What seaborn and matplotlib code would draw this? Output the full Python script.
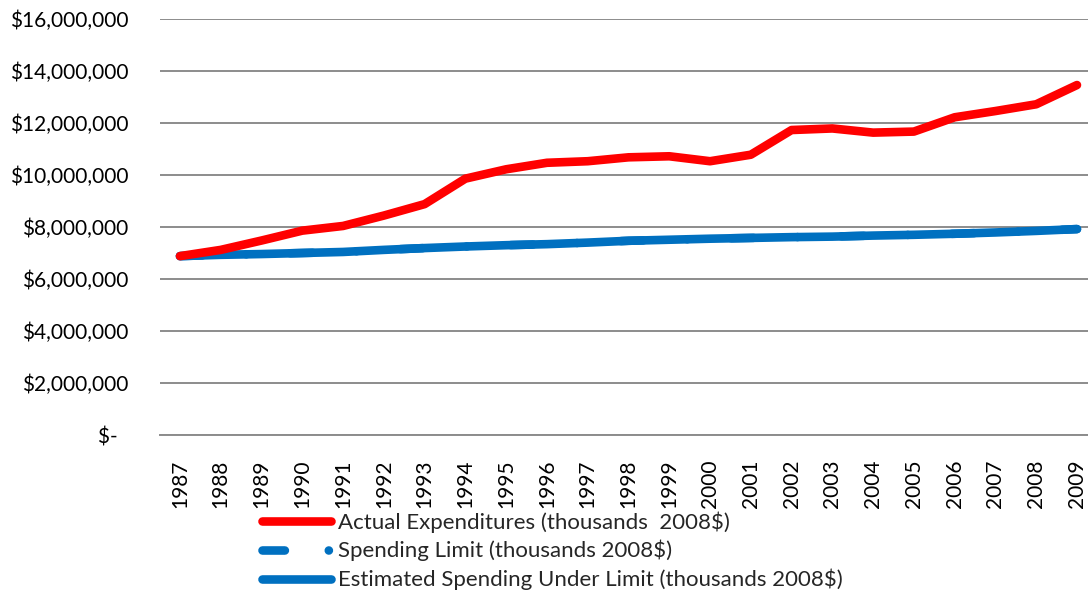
import numpy as np
import pandas as pd
import matplotlib
matplotlib.use('Agg')
import matplotlib.pyplot as plt
import seaborn as sns
from matplotlib.ticker import FuncFormatter

years = list(range(1987, 2010))
actual = [6.88, 7.12, 7.48, 7.86, 8.04, 8.44, 8.88, 9.86, 10.22, 10.47, 10.53, 10.68, 10.72,
          10.53, 10.78, 11.73, 11.79, 11.63, 11.67, 12.22, 12.46, 12.72, 13.46]
limit = [6.88, 6.93, 6.96, 7.00, 7.04, 7.12, 7.19, 7.25, 7.30, 7.34, 7.40, 7.47, 7.51,
         7.55, 7.58, 7.61, 7.63, 7.67, 7.70, 7.74, 7.79, 7.85, 7.92]
estimated = list(limit)

labels = ['Actual Expenditures (thousands  2008$)',
          'Spending Limit (thousands 2008$)',
          'Estimated Spending Under Limit (thousands 2008$)']

df = pd.DataFrame({'year': [str(y) for y in years],
                   'actual': np.array(actual) * 1e6,
                   'limit': np.array(limit) * 1e6,
                   'estimated': np.array(estimated) * 1e6})

sns.set_style('white')
plt.rcParams['font.family'] = ['Lato', 'DejaVu Sans']

fig = plt.figure(figsize=(10.88, 5.95), dpi=100)
ax = fig.add_axes([159.6 / 1088, 160 / 595, (1088 - 159.6) / 1088, 416 / 595])

red = '#FF0000'
blue = '#0070C0'
sns.lineplot(data=df, x='year', y='actual', ax=ax, color=red, lw=6.2,
             solid_capstyle='round', solid_joinstyle='round', label=labels[0], zorder=3, sort=False)
sns.lineplot(data=df, x='year', y='limit', ax=ax, color=blue, lw=6.2,
             label=labels[1], zorder=2, sort=False)
sns.lineplot(data=df, x='year', y='estimated', ax=ax, color=blue, lw=6.2,
             solid_capstyle='round', solid_joinstyle='round', label=labels[2], zorder=2.5, sort=False)
# spending limit: long dash + round dot
ax.lines[1].set_dashes((2.6, 5.1, 0.01, 5.1))
ax.lines[1].set_dash_capstyle('round')

ax.set_xlim(-0.5, 22.27)
ax.set_ylim(0, 16e6)
ax.set_yticks(np.arange(0, 16e6 + 1, 2e6))
ax.yaxis.set_major_formatter(FuncFormatter(lambda v, p: '$-  ' if v == 0 else f'${v:,.0f}'))
ax.yaxis.grid(True, color='#8C8C8C', lw=1.4)
ax.set_axisbelow(True)
for s in ['top', 'right', 'left']:
    ax.spines[s].set_visible(False)
ax.spines['bottom'].set_color('#8C8C8C')
ax.spines['bottom'].set_linewidth(1.4)
ax.tick_params(axis='both', length=0, colors='black')
ax.tick_params(axis='y', pad=22.5, labelsize=15)
ax.tick_params(axis='x', pad=18, labelsize=15)
plt.setp(ax.get_xticklabels(), rotation=90)
ax.set_xlabel('')
ax.set_ylabel('')

ax.legend(loc='upper left', bbox_to_anchor=((262 - 159.6) / 928.4, -0.183), frameon=False,
          fontsize=16, handlelength=3.1, handletextpad=0.3, labelspacing=0.33,
          borderpad=0, borderaxespad=0)

fig.savefig('out.png', dpi=100)
